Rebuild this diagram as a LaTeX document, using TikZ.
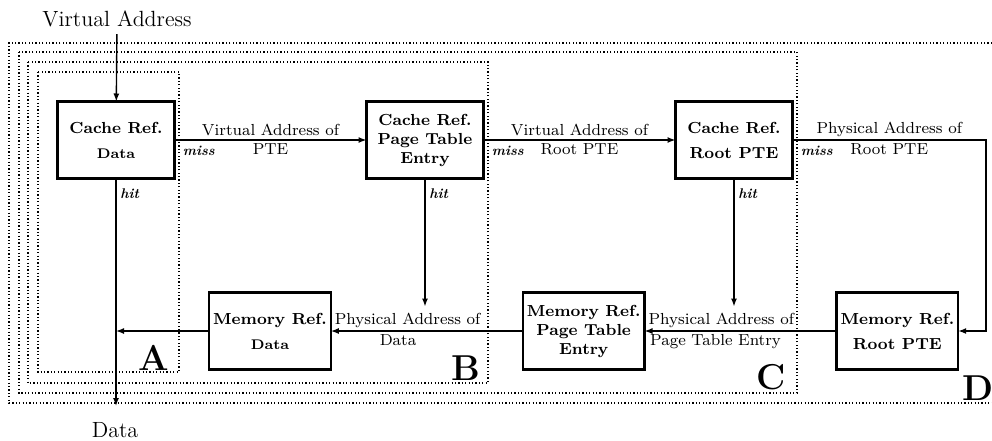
\documentclass[tikz,border=0pt]{standalone}
\usepackage{tikz}
\usetikzlibrary{arrows.meta, positioning}

\begin{document}
\begin{tikzpicture}[x=0.5pt, y=-0.5pt, node distance=96pt, >={Latex[length=4pt,width=3pt]}]
  \tikzstyle{blk}=[rectangle, draw, line width=1.2pt, outer sep=0pt,
                   minimum width=58.5pt, minimum height=38.5pt, align=center,
                   inner sep=2pt, font=\fontsize{8}{9.5}\selectfont\bfseries]
  \tikzstyle{arr}=[->, line width=0.7pt]
  \tikzstyle{lbl}=[font=\fontsize{8}{9.5}\selectfont, inner sep=1.5pt]
  \tikzstyle{tag}=[font=\fontsize{7}{8}\selectfont\bfseries\itshape, inner sep=1pt]
  \tikzstyle{bound}=[line width=0.6pt, dash pattern=on 0.6pt off 1.1pt]
  \tikzstyle{big}=[font=\fontsize{18}{20}\selectfont\bfseries, inner sep=0pt]
  \tikzstyle{io}=[font=\fontsize{11}{13}\selectfont]
  \useasboundingbox (0,0) rectangle (992,440);

  % nested lookup regions A..D
  \draw[bound] (38,72) rectangle (179,372);
  \draw[bound] (28,62) rectangle (488,383);
  \draw[bound] (19,52) rectangle (797,393);
  \draw[bound] (992,43) -- (9,43) -- (9,403) -- (992,403);
  \node[big](LA) at (154,358){A};
  \node[big](LB) at (466,368){B};
  \node[big](LC) at (771,377){C};
  \node[big](LD) at (978,388){D};

  \node[blk](CD) at (116,140){Cache Ref.\\[3pt]{\fontsize{7}{8}\selectfont Data}};
  \node[blk, right=of CD](CP){Cache Ref.\\Page Table\\Entry};
  \node[blk, right=of CP](CR){Cache Ref.\\[3pt]Root PTE};
  \node[blk](MD) at (270,331){Memory Ref.\\[3pt]{\fontsize{7}{8}\selectfont Data}};
  \node[blk, right=of MD](MP){Memory Ref.\\Page Table\\Entry};
  \node[blk, right=of MP](MR){Memory Ref.\\[3pt]Root PTE};

  \node[io](VA) at (117,19){Virtual Address};
  \node[io](DT) at (115,430){Data};
  \coordinate (DO) at (116,406);
  \coordinate (PH) at ([yshift=-64pt]CP.south);
  \coordinate (RH) at ([yshift=-64pt]CR.south);
  \coordinate (T) at (986,140);

  \draw[arr](VA)--(CD);
  \draw[arr](CD)--(DO);
  \draw[arr](CD)--node[lbl,above](l1){Virtual Address of}node[lbl,below](l2){PTE}(CP);
  \draw[arr](CP)--node[lbl,above](l3){Virtual Address of}node[lbl,below](l4){Root PTE}(CR);
  \draw[arr](CR)--node[lbl,above](l5){Physical Address of}node[lbl,below](l6){Root PTE}(T)|-(MR);
  \draw[arr](MR)--node[lbl,above,pos=0.6](l7){Physical Address of}
                   node[lbl,below,pos=0.63](l8){Page Table Entry}(MP);
  \draw[arr](MP)--node[lbl,above,pos=0.6](l9){Physical Address of}
                   node[lbl,below,pos=0.65](l10){Data}(MD);
  \draw[arr](MD)--(MD.west -| CD.south);
  \draw[arr](CP)--(PH);
  \draw[arr](CR)--(RH);

  \node[tag, below right=2pt and 3pt of CD.east](m1){miss};
  \node[tag, below right=2pt and 3pt of CP.east](m2){miss};
  \node[tag, below right=2pt and 3pt of CR.east](m3){miss};
  \node[tag, below right=4pt and 1pt of CD.south](h1){hit};
  \node[tag, below right=4pt and 1pt of CP.south](h2){hit};
  \node[tag, below right=4pt and 1pt of CR.south](h3){hit};
\end{tikzpicture}
\end{document}
